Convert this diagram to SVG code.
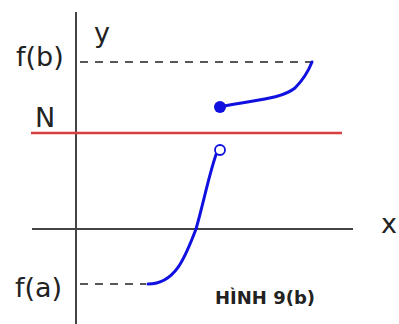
<svg xmlns="http://www.w3.org/2000/svg" width="399" height="324" viewBox="0 0 399 324">
<style>
.lbl{font-family:"DejaVu Sans","Liberation Sans",sans-serif;font-size:27px;fill:#222}
.axis{stroke:#444;stroke-width:2;fill:none}
.dash{stroke:#222;stroke-width:1.5;stroke-dasharray:8,7;fill:none}
.curve{stroke:#1010e0;stroke-width:3;fill:none;stroke-linecap:round}
</style>
<rect width="399" height="324" fill="#fff"/>
<g id="connectors">
<line class="axis" x1="76" y1="12" x2="76" y2="324"/>
<line class="axis" x1="32" y1="229" x2="353" y2="229"/>
<line x1="31" y1="133" x2="342" y2="133" stroke="#d84040" stroke-width="2.5"/>
<line class="dash" x1="80" y1="62" x2="312" y2="62"/>
<line class="dash" x1="80" y1="284" x2="146" y2="284"/>
<path class="curve" d="M148,284 C175,284 185,258 196,229 C203,205 210,170 217,152"/>
<path class="curve" d="M220,107 C250,100 280,100 295,88 C303,80 308,72 312,62"/>
</g>
<g id="open-point"><circle cx="220" cy="150" r="5" fill="#fff" stroke="#1010e0" stroke-width="1.8"/></g>
<g id="closed-point"><circle cx="220" cy="107" r="6" fill="#1010e0"/></g>
<g id="labels">
<text class="lbl" x="94" y="42">y</text>
<text class="lbl" x="16" y="66">f(b)</text>
<text class="lbl" x="35" y="127">N</text>
<text class="lbl" x="381" y="233">x</text>
<text class="lbl" x="15" y="297">f(a)</text>
<text x="215" y="304" font-family="'DejaVu Sans','Liberation Sans',sans-serif" font-size="18" font-weight="bold" fill="#222">HÌNH 9(b)</text>
</g>
</svg>
